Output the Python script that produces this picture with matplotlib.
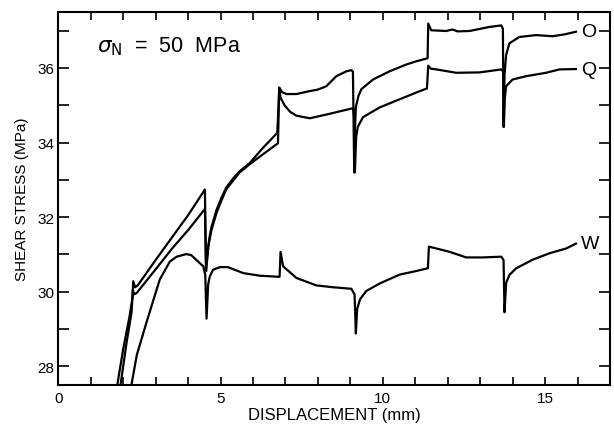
import matplotlib
matplotlib.use("Agg")
import matplotlib.pyplot as plt
from matplotlib.ticker import MultipleLocator

plt.rcParams['font.family'] = ['Liberation Sans', 'DejaVu Sans']

# Curve O
o_x = [1.82, 2.0, 2.2, 2.29, 2.31, 2.37, 2.45, 3.0, 3.5, 4.0, 4.52, 4.55, 4.6, 4.65, 4.72, 4.88,
       5.03, 5.18, 5.4, 5.59, 5.9, 6.3, 6.75, 6.81, 6.9, 7.03, 7.34, 7.75, 8.0, 8.26, 8.57, 8.88,
       9.03, 9.08, 9.12, 9.14, 9.17, 9.25, 9.34, 9.7, 10.21, 10.72, 11.0, 11.38, 11.40, 11.49,
       11.95, 12.15, 12.3, 12.67, 13.29, 13.65, 13.70, 13.72, 13.75, 13.80, 13.90, 14.21, 14.72,
       15.23, 15.6, 15.95]
o_y = [27.5, 28.45, 29.35, 29.85, 30.28, 30.12, 30.17, 30.85, 31.45, 32.05, 32.74, 30.65, 31.0, 31.4, 31.73, 32.2,
       32.52, 32.8, 33.05, 33.23, 33.45, 33.85, 34.26, 35.47, 35.35, 35.30, 35.30, 35.38, 35.42, 35.51, 35.78, 35.91,
       35.94, 35.90, 33.2, 34.3, 34.95, 35.25, 35.43, 35.69, 35.91, 36.09, 36.17, 36.26, 37.19, 37.01,
       36.99, 37.03, 36.98, 36.99, 37.10, 37.14, 37.05, 34.42, 35.8, 36.35, 36.66, 36.83, 36.88,
       36.85, 36.9, 36.97]

# Curve Q
q_x = [1.92, 2.1, 2.26, 2.30, 2.34, 2.42, 3.0, 3.5, 4.0, 4.52, 4.56, 4.62, 4.72, 4.88, 5.03, 5.18,
       5.59, 5.9, 6.3, 6.77, 6.81, 6.85, 6.98, 7.15, 7.34, 7.75, 8.36, 8.98, 9.08, 9.12, 9.14, 9.18,
       9.23, 9.39, 9.9, 10.52, 11.03, 11.36, 11.40, 11.48, 11.65, 12.26, 12.98, 13.65, 13.71, 13.73,
       13.76, 13.80, 14.0, 14.42, 15.03, 15.44, 15.95]
q_y = [27.5, 28.6, 29.45, 30.05, 29.93, 29.97, 30.6, 31.15, 31.65, 32.22, 30.55, 31.2, 31.65, 32.12, 32.45, 32.75,
       33.2, 33.42, 33.68, 33.98, 35.47, 35.2, 34.99, 34.82, 34.72, 34.65, 34.77, 34.90, 34.92, 34.7, 33.2, 34.15,
       34.42, 34.68, 34.94, 35.16, 35.34, 35.45, 36.06, 35.98, 35.96, 35.87, 35.88, 35.96, 35.9, 34.42,
       35.2, 35.51, 35.69, 35.78, 35.87, 35.96, 35.97]

# Curve W
w_x = [2.26, 2.42, 2.72, 3.13, 3.44, 3.65, 3.95, 4.1, 4.26, 4.47, 4.53, 4.57, 4.62, 4.67, 4.77, 4.98,
       5.23, 5.70, 6.21, 6.82, 6.85, 6.93, 7.34, 7.95, 8.47, 9.03, 9.13, 9.17, 9.21, 9.30, 9.49, 9.90,
       10.52, 11.0, 11.39, 11.42, 11.65, 12.06, 12.57, 13.08, 13.65, 13.72, 13.75, 13.80, 13.9, 14.11,
       14.62, 15.13, 15.65, 15.95]
w_y = [27.52, 28.30, 29.18, 30.33, 30.81, 30.94, 31.01, 30.98, 30.85, 30.68, 30.45, 29.28, 30.2, 30.41, 30.59, 30.66,
       30.66, 30.50, 30.43, 30.40, 31.07, 30.68, 30.37, 30.17, 30.12, 30.08, 29.93, 28.88, 29.54, 29.80, 30.02, 30.22,
       30.46, 30.55, 30.63, 31.21, 31.16, 31.07, 30.92, 30.92, 30.94, 30.85, 29.45, 30.24, 30.45, 30.63,
       30.86, 31.03, 31.16, 31.29]

labels = ['O', 'Q', 'W']
label_y = [36.97, 35.97, 31.29]

fig = plt.figure(figsize=(6.14, 4.27), dpi=100)
ax = fig.add_axes([0.0948, 0.096, 0.8987, 0.8736])

for xs, ys in [(o_x, o_y), (q_x, q_y), (w_x, w_y)]:
    ax.plot(xs, ys, color='black', lw=1.6, solid_joinstyle='round')

for lab, ly in zip(labels, label_y):
    ax.text(16.1, ly, lab, fontsize=14, ha='left', va='center')

ax.text(0.07, 0.893, r'$\sigma_{\rm N}$  =  50  MPa', transform=ax.transAxes,
        fontsize=15.5, ha='left', va='baseline')

ax.set_xlim(0, 17)
ax.set_ylim(27.5, 37.5)
ax.xaxis.set_major_locator(MultipleLocator(5))
ax.xaxis.set_minor_locator(MultipleLocator(1))
ax.yaxis.set_major_locator(MultipleLocator(2))
ax.yaxis.set_minor_locator(MultipleLocator(1))
ax.tick_params(axis='both', which='both', direction='in', top=True, right=True,
               width=1.2, labelsize=11)
ax.tick_params(axis='x', which='both', length=5.5, pad=4)
ax.tick_params(axis='y', which='both', length=8, pad=3)
for s in ax.spines.values():
    s.set_linewidth(1.5)

ax.set_xlabel('DISPLACEMENT (mm)', fontsize=12, labelpad=2)
ax.set_ylabel('SHEAR STRESS (MPa)', fontsize=11, labelpad=6)

fig.savefig('out.png', dpi=100)
